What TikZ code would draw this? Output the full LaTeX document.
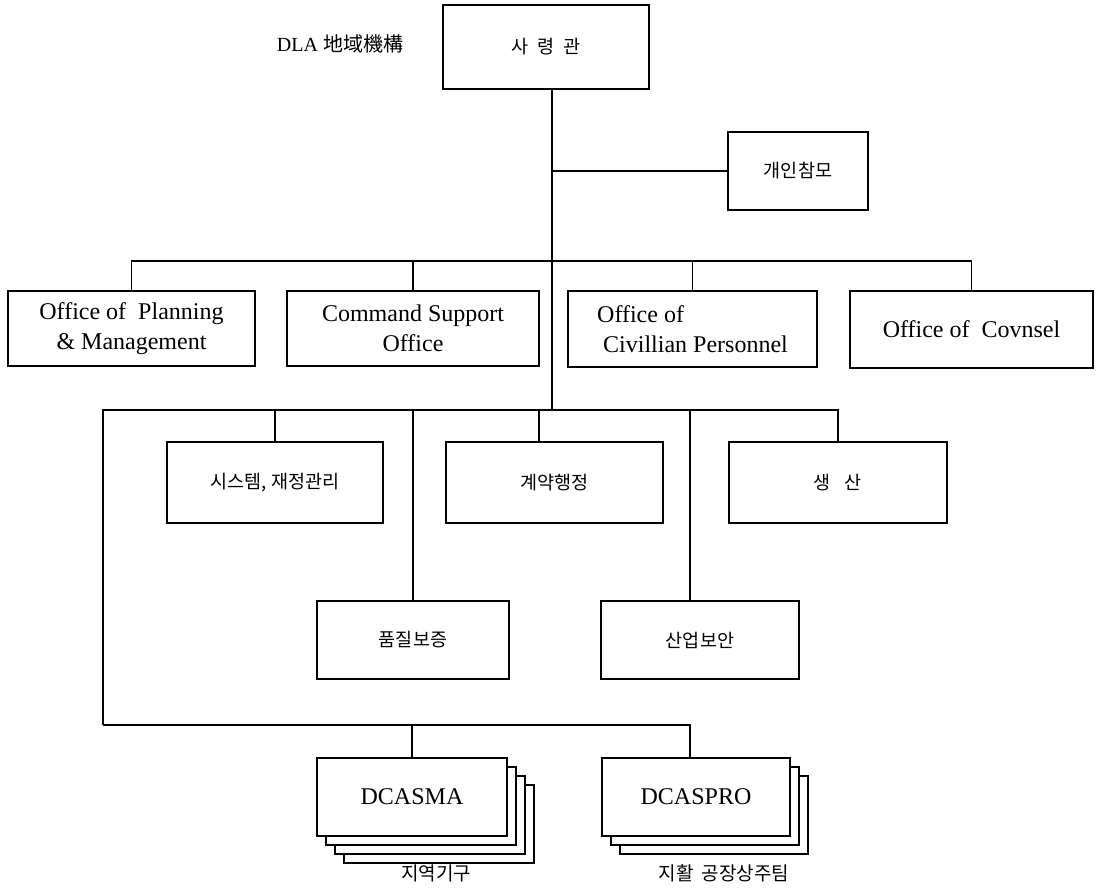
\documentclass[tikz,border=0pt]{standalone}
\usepackage{fontspec}
\setmainfont{Liberation Serif}
\newfontfamily\kr{Noto Sans CJK KR}
\usetikzlibrary{calc}
\tikzset{
  box/.style={draw, line width=1.6pt, fill=white, inner sep=0pt, align=center},
  en/.style={font=\fontsize{24}{30}\selectfont},
  ko/.style={font=\kr\fontsize{18.5}{22}\selectfont},
  link/.style={line width=1.4pt},
}
\begin{document}
\begin{tikzpicture}[x=1pt,y=-1pt]
\useasboundingbox (0,0) rectangle (1096,889);
% title
\node[font=\fontsize{20}{24}\selectfont] (title) at (340,44) {DLA {\kr 地域機構}};
% commander
\node[box, ko, minimum width=206, minimum height=84] (cmd) at (546,47) {사\hspace{9pt}령\hspace{9pt}관};
\node[box, ko, minimum width=140, minimum height=78] (staff) at (798,171) {개인참모};
% row 2
\node[box, en, minimum width=247, minimum height=75] (plan) at (131.5,328.5) {Office of\ \ Planning\\\& Management};
\node[box, en, minimum width=252, minimum height=75] (cso) at (413,328.5) {Command Support\\Office};
\node[box, en, minimum width=249, minimum height=76, align=left] (ocp) at (692.5,329) {Office of\\\ Civillian Personnel};
\node[box, en, minimum width=243, minimum height=77] (oc) at (971.5,329.5) {Office of\ \ Covnsel};
% row 3
\node[box, ko, minimum width=216, minimum height=81] (sys) at (275,482.5) {시스템, 재정관리};
\node[box, ko, minimum width=217, minimum height=81] (contract) at (554.5,482.5) {계약행정};
\node[box, ko, minimum width=218, minimum height=81] (prod) at (838,482.5) {생\hspace{14pt}산};
% row 4
\node[box, ko, minimum width=192, minimum height=78] (qa) at (413,640) {품질보증};
\node[box, ko, minimum width=198, minimum height=78] (sec) at (700,640) {산업보안};
% stacks
\node[box, minimum width=190, minimum height=78] (dA3) at (439,824) {};
\node[box, minimum width=190, minimum height=78] (dA2) at (430,815) {};
\node[box, minimum width=190, minimum height=78] (dA1) at (421,806) {};
\node[box, en, minimum width=190, minimum height=78] (dcasma) at (412,797) {DCASMA};
\node[box, minimum width=188, minimum height=78] (dP2) at (714,815) {};
\node[box, minimum width=188, minimum height=78] (dP1) at (705,806) {};
\node[box, en, minimum width=188, minimum height=78] (dcaspro) at (696,797) {DCASPRO};
\node[ko, font=\kr\fontsize{19}{22}\selectfont] (lblA) at (436,873) {지역기구};
\node[ko, font=\kr\fontsize{19}{22}\selectfont] (lblP) at (724,873) {지활\hspace{8pt}공장상주팀};
% bus and column coordinates
\coordinate (b2) at (0,261);
\coordinate (b3) at (0,410);
\coordinate (b4) at (0,725);
\coordinate (xl) at (103,0);
\coordinate (xt) at (552,0);
\coordinate (xc) at (539,0);
\coordinate (xs) at (690,0);
% trunk
\draw[link] (cmd.south -| xt) -- (xt |- b3);
\draw[link] (staff.west) -- (staff.west -| xt);
% row 2 bus
\draw[link] (plan.north) -- (plan.north |- b2) -- (oc.north |- b2) -- (oc.north);
\draw[link] (cso.north) -- (cso.north |- b2);
\draw[link] (ocp.north) -- (ocp.north |- b2);
% row 3 bus
\draw[link] (xl |- b4) -- (xl |- b3) -- (prod.north |- b3) -- (prod.north);
\draw[link] (sys.north) -- (sys.north |- b3);
\draw[link] (contract.north -| xc) -- (xc |- b3);
\draw[link] (qa.north) -- (qa.north |- b3);
\draw[link] (sec.north -| xs) -- (xs |- b3);
% bottom bus
\draw[link] (xl |- b4) -- (xs |- b4) -- (dcaspro.north -| xs);
\draw[link] (dcasma.north) -- (dcasma.north |- b4);
\end{tikzpicture}
\end{document}
